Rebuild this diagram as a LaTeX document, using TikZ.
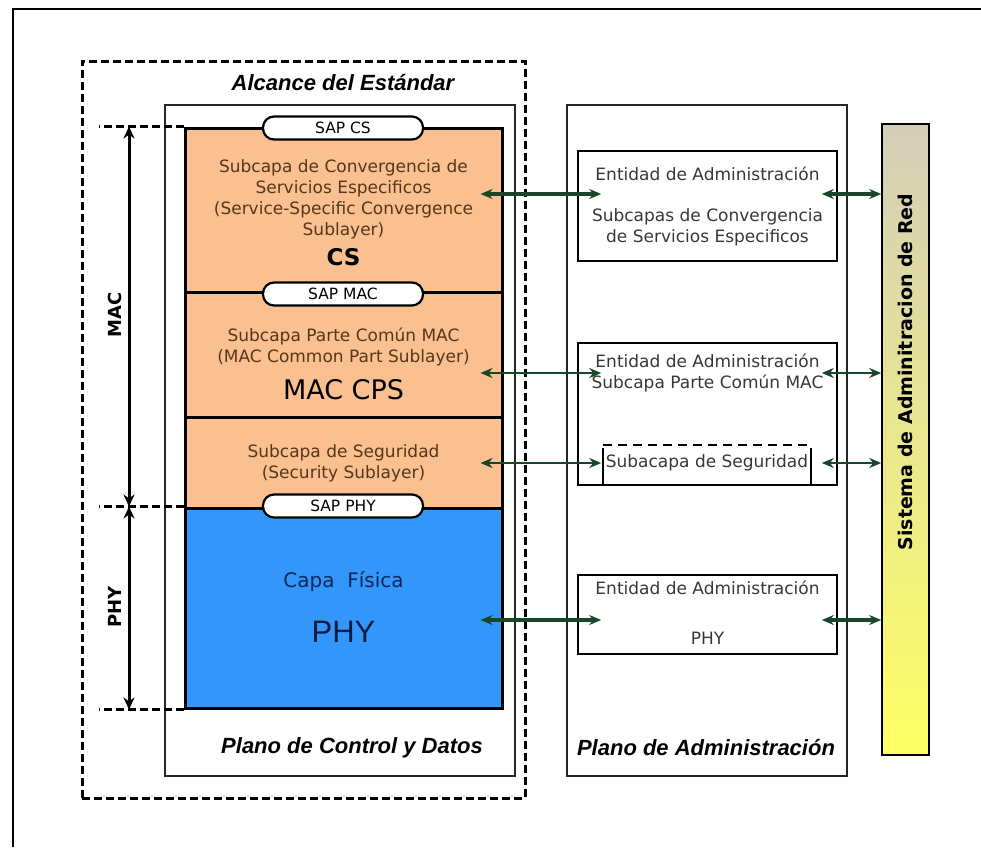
\documentclass[tikz,border=0pt]{standalone}
\usepackage{fontspec}
\setmainfont{DejaVu Sans}
\newfontfamily\arialfont{Liberation Sans}
\usetikzlibrary{arrows.meta}
\definecolor{layerorange}{RGB}{250,192,144}
\definecolor{phyblue}{RGB}{51,150,250}
\definecolor{linkgreen}{RGB}{25,70,40}
\definecolor{layertext}{RGB}{85,55,25}
\definecolor{enttext}{RGB}{55,55,55}
\definecolor{navytext}{RGB}{10,40,90}
\definecolor{barbeige}{RGB}{212,206,186}
\definecolor{baryellow}{RGB}{255,255,100}

\begin{document}
\begin{tikzpicture}[x=1pt,y=-1pt,>={Stealth[length=12pt,width=10pt]},
  layer/.style={draw,line width=3pt,fill=layerorange,minimum width=317pt,inner sep=0},
  sap/.style={draw,line width=2.2pt,fill=white,rounded corners=11pt,minimum width=160pt,minimum height=23pt,inner sep=0,font=\fontsize{15.5}{17}\selectfont},
  small/.style={font=\fontsize{17}{21}\selectfont,align=center,inner sep=0},
  plane/.style={draw,line width=1.3pt,black!85,inner sep=0},
  entity/.style={draw,line width=1.6pt,minimum width=259pt,inner sep=0},
  title/.style={font=\arialfont\bfseries\itshape\fontsize{22}{26}\selectfont,inner sep=0},
  side/.style={font=\bfseries\fontsize{18}{20}\selectfont,rotate=90,inner sep=0},
  link/.style={<->,linkgreen},
  dim/.style={{Stealth[length=12pt,width=11pt]}-{Stealth[length=12pt,width=11pt]},line width=3pt},
  guide/.style={line width=3pt,dash pattern=on 8pt off 4pt}]

\useasboundingbox (0,0) rectangle (981,847);
\draw[line width=2.2pt] (13,847) -- (13,9) -- (981,9);

% alcance del estandar
\node[draw,line width=3pt,dash pattern=on 8pt off 4pt,minimum width=443pt,minimum height=737pt,inner sep=0] (scope) at (303.5,429.5) {};
\node[title] (scopelab) at (343,83) {Alcance del Estándar};

% planes
\node[plane,minimum width=350pt,minimum height=671pt] (ctrl) at (340,440.5) {};
\node[plane,minimum width=280pt,minimum height=671pt] (mgmt) at (707,440.5) {};
\node[title] (ctrllab) at (352,748) {Plano de Control y Datos};
\node[title] (mgmtlab) at (706,748) {Plano de Administración};

% layer stack
\node[layer,minimum height=164pt] (cs) at (343.5,210) {};
\node[layer,minimum height=125pt] (mac) at (343.5,354.5) {};
\node[layer,minimum height=91pt] (sec) at (343.5,462.5) {};
\node[layer,fill=phyblue,minimum height=200pt] (phy) at (343.5,608) {};

\node[small,text=layertext] (cstxt) at (343.5,199) {Subcapa de Convergencia de\\Servicios Especificos\\(Service-Specific Convergence\\Sublayer)};
\node[font=\bfseries\fontsize{23}{26}\selectfont,inner sep=0] (csname) at (343.5,257) {CS};
\node[small,text=layertext] (mactxt) at (343.5,346.5) {Subcapa Parte Común MAC\\(MAC Common Part Sublayer)};
\node[font=\fontsize{27}{30}\selectfont,inner sep=0] (macname) at (343.5,390) {MAC CPS};
\node[small,text=layertext] (sectxt) at (343.5,463) {Subcapa de Seguridad\\(Security Sublayer)};
\node[font=\fontsize{20}{24}\selectfont,text=navytext,inner sep=0] (phytxt) at (343.5,582) {Capa\ \ Física};
\node[font=\arialfont\fontsize{31}{34}\selectfont,text=navytext!70!black,inner sep=0] (phyname) at (343.5,632) {PHY};

\foreach \y/\lab/\nm in {128/SAP CS/sapcs,294/SAP MAC/sapmac,506/SAP PHY/sapphy}
  \node[sap] (\nm) at (343,\y) {\lab};

% MAC / PHY extent
\foreach \n in {cs.north west,phy.north west,phy.south west}
  \draw[guide] (\n) -- ++(-85,0);
\draw[dim] (129,0 |- cs.north) -- (129,0 |- phy.north);
\draw[dim] (129,0 |- phy.north) -- (129,0 |- phy.south);
\node[side] (maclab) at (115,315) {MAC};
\node[side] (phylab) at (115,607) {PHY};

% management entities
\node[entity,minimum height=110pt] (entcs) at (707.5,206) {};
\node[entity,minimum height=142pt] (entmac) at (707.5,414) {};
\node[entity,minimum height=79pt] (entphy) at (707.5,614.5) {};
\node[small,text=enttext] (entcs1) at (707.5,174) {Entidad de Administración};
\node[small,text=enttext] (entcs2) at (707.5,227.5) {Subcapas de Convergencia\\de Servicios Especificos};
\node[small,text=enttext] (entmac1) at (707.5,373) {Entidad de Administración\\Subcapa Parte Común MAC};
\node[inner sep=0,minimum width=208pt,minimum height=40pt] (entsec) at (707,465) {};
\draw[line width=1.6pt,dash pattern=on 9pt off 6pt] (entsec.north west) -- (entsec.north east);
\draw[line width=1.6pt] ([yshift=-3pt]entsec.north west) -- (entsec.south west);
\draw[line width=1.6pt] ([yshift=-3pt]entsec.north east) -- (entsec.south east);
\node[small,text=enttext] (entsectxt) at (707,463) {Subacapa de Seguridad};
\node[small,text=enttext] (entphy1) at (707.5,588) {Entidad de Administración};
\node[small,text=enttext] (entphy2) at (707.5,638) {PHY};

% network management system
\node[draw,line width=1.6pt,minimum width=47pt,minimum height=631pt,inner sep=0,
  top color=barbeige,middle color=baryellow!90!barbeige,bottom color=baryellow] (nms) at (905.5,439.5) {};
\node[side,font=\bfseries\fontsize{19}{21}\selectfont] (nmslab) at (nms.center |- 0,372) {Sistema de Adminitracion de Red};

% links
\foreach \y/\w/\from/\to in {194/4/cs/entcs,373/2.5/mac/entmac,463/2.5/sec/entmac,620/4/phy/entphy}{
  \draw[link,line width=\w pt,shorten <=-23pt,shorten >=-24pt] (\from.east |- 0,\y) -- (\to.west |- 0,\y);
  \draw[link,line width=\w pt,shorten <=-16pt] (\to.east |- 0,\y) -- (nms.west |- 0,\y);
}
\end{tikzpicture}
\end{document}
